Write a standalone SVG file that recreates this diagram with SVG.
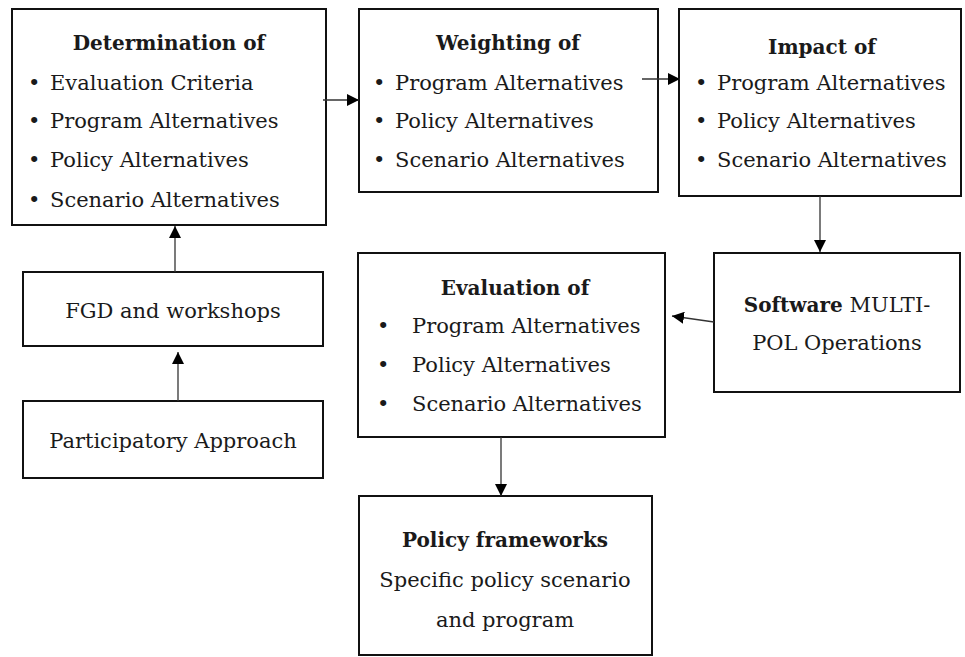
<svg xmlns="http://www.w3.org/2000/svg" width="965" height="657" viewBox="0 0 965 657">
<style>
.box{fill:#fff;stroke:#111;stroke-width:2}
text{font-family:"DejaVu Serif","Liberation Serif",serif;font-size:21px;fill:#1a1a1a}
.b{font-weight:bold;font-size:20px}
.c{text-anchor:middle}
.ln{stroke:#333;stroke-width:1.3;fill:none}
</style>
<defs>
<marker id="ah" viewBox="0 0 12 12" refX="12" refY="6" markerWidth="12" markerHeight="12" markerUnits="userSpaceOnUse" orient="auto">
<path d="M0,0 L12,6 L0,12 Z" fill="#000"/>
</marker>
</defs>
<rect width="965" height="657" fill="#fff"/>
<g id="determination">
<rect class="box" x="12" y="9" width="314" height="216"/>
<text class="b c" x="169" y="50">Determination of</text>
<text x="28" y="90">•</text><text x="50" y="90">Evaluation Criteria</text>
<text x="28" y="128">•</text><text x="50" y="128">Program Alternatives</text>
<text x="28" y="167">•</text><text x="50" y="167">Policy Alternatives</text>
<text x="28" y="207">•</text><text x="50" y="207">Scenario Alternatives</text>
</g>
<g id="weighting">
<rect class="box" x="359" y="9" width="299" height="183"/>
<text class="b c" x="508" y="50">Weighting of</text>
<text x="373" y="90">•</text><text x="395" y="90">Program Alternatives</text>
<text x="373" y="128">•</text><text x="395" y="128">Policy Alternatives</text>
<text x="373" y="167">•</text><text x="395" y="167">Scenario Alternatives</text>
</g>
<g id="impact">
<rect class="box" x="679" y="9" width="282" height="187"/>
<text class="b c" x="822" y="54">Impact of</text>
<text x="695" y="90">•</text><text x="717" y="90">Program Alternatives</text>
<text x="695" y="128">•</text><text x="717" y="128">Policy Alternatives</text>
<text x="695" y="167">•</text><text x="717" y="167">Scenario Alternatives</text>
</g>
<g id="software">
<rect class="box" x="714" y="253" width="246" height="139"/>
<text class="c" x="837" y="312"><tspan class="b">Software</tspan> MULTI-</text>
<text class="c" x="837" y="350">POL Operations</text>
</g>
<g id="evaluation">
<rect class="box" x="358" y="253" width="307" height="184"/>
<text class="b c" x="515" y="295">Evaluation of</text>
<text x="377" y="333">•</text><text x="412" y="333">Program Alternatives</text>
<text x="377" y="372">•</text><text x="412" y="372">Policy Alternatives</text>
<text x="377" y="411">•</text><text x="412" y="411">Scenario Alternatives</text>
</g>
<g id="fgd">
<rect class="box" x="23" y="272" width="300" height="74"/>
<text class="c" x="173" y="318">FGD and workshops</text>
</g>
<g id="participatory">
<rect class="box" x="23" y="401" width="300" height="77"/>
<text class="c" x="173" y="448">Participatory Approach</text>
</g>
<g id="policy">
<rect class="box" x="359" y="496" width="293" height="159"/>
<text class="b c" x="505" y="547">Policy frameworks</text>
<text class="c" x="505" y="587">Specific policy scenario</text>
<text class="c" x="505" y="627">and program</text>
</g>
<g id="connectors">
<line class="ln" x1="178" y1="401" x2="178" y2="352" marker-end="url(#ah)"/>
<line class="ln" x1="175" y1="272" x2="175" y2="226" marker-end="url(#ah)"/>
<line class="ln" x1="323" y1="100" x2="359" y2="100" marker-end="url(#ah)"/>
<line class="ln" x1="642" y1="79" x2="680" y2="79" marker-end="url(#ah)"/>
<line class="ln" x1="820" y1="196" x2="820" y2="252" marker-end="url(#ah)"/>
<line class="ln" x1="714" y1="322" x2="672" y2="316" marker-end="url(#ah)"/>
<line class="ln" x1="501" y1="437" x2="501" y2="496" marker-end="url(#ah)"/>
</g>
</svg>
